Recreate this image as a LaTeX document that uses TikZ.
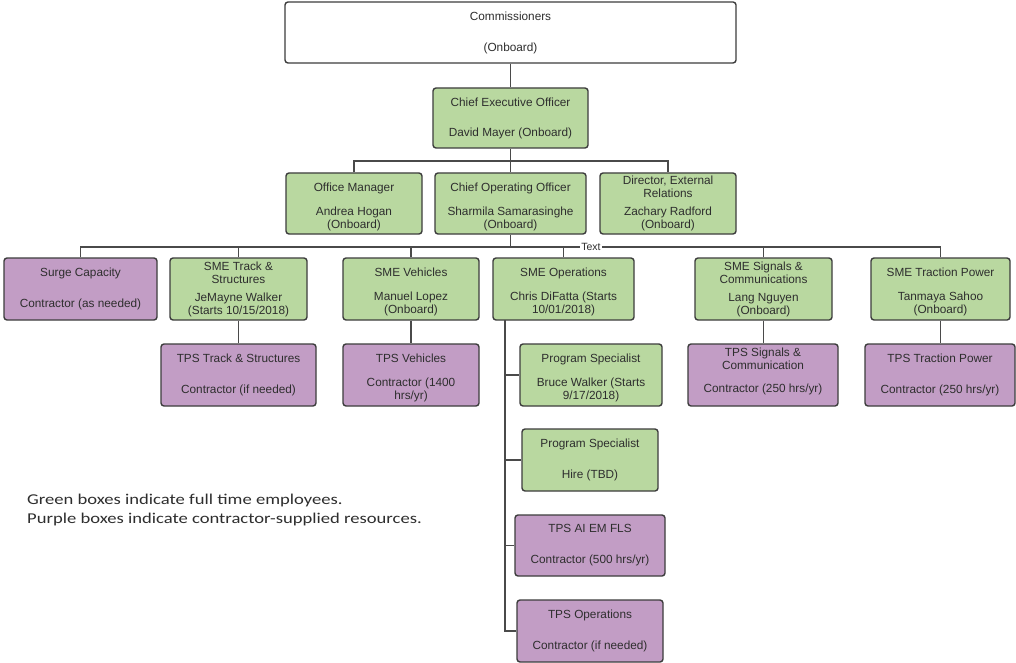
\documentclass[tikz,border=0pt]{standalone}
\usepackage{fontspec}
\setmainfont{Liberation Sans}
\newfontfamily\legendfont{Carlito}
\usepackage{graphicx}
\definecolor{gfill}{HTML}{B9D8A0}
\definecolor{pfill}{HTML}{C29DC5}
\definecolor{bord}{HTML}{3D3D3D}
\definecolor{conn}{HTML}{4A4A4A}
\definecolor{txtc}{HTML}{2E2E2E}
\newcommand\topstrut{\rule{0pt}{14.6pt}}
\newcommand\botstrut{\rule[-9.5pt]{0pt}{0pt}}
\tikzset{
  box/.style={draw=bord, line width=1.4pt, rounded corners=3pt, align=center,
    inner sep=0pt, text=txtc, font=\fontsize{11.8}{13}\selectfont},
  gbox/.style={box, fill=gfill},
  pbox/.style={box, fill=pfill},
  wbox/.style={box, fill=white},
  link/.style={draw=conn, line width=1.4pt},
}
\begin{document}
\begin{tikzpicture}[x=1pt, y=-1pt]
\useasboundingbox[fill=white] (0,0) rectangle (1016,663);

% level 0/1
\node[wbox, minimum width=451pt, minimum height=61pt] (com) at (510.5,32.5) {Commissioners\\[18pt](Onboard)};
\node[gbox, minimum width=155pt, minimum height=60pt] (ceo) at (510.5,118) {Chief Executive Officer\\[17pt]David Mayer (Onboard)};

% level 2
\node[gbox, minimum width=136pt, minimum height=61pt] (om) at (354,203.5) {\topstrut Office Manager\\[11pt]Andrea Hogan\\(Onboard)};
\node[gbox, minimum width=151pt, minimum height=61pt] (coo) at (510.5,203.5) {\topstrut Chief Operating Officer\\[11pt]Sharmila Samarasinghe\\(Onboard)};
\node[gbox, minimum width=136pt, minimum height=61pt] (dir) at (668,203.5) {Director, External\\Relations\\[5pt]Zachary Radford\\(Onboard)};

% level 3
\node[pbox, minimum width=153pt, minimum height=62pt] (sur) at (80.5,289) {Surge Capacity\\[18pt]Contractor (as needed)};
\node[gbox, minimum width=137pt, minimum height=62pt] (smt) at (238.5,289) {SME Track \&\\Structures\\[5pt]JeMayne Walker\\(Starts 10/15/2018)};
\node[gbox, minimum width=136pt, minimum height=62pt] (smv) at (411,289) {\topstrut SME Vehicles\\[11pt]Manuel Lopez\\(Onboard)};
\node[gbox, minimum width=141pt, minimum height=62pt] (smo) at (563.5,289) {\topstrut SME Operations\\[11pt]Chris DiFatta (Starts\\10/01/2018)};
\node[gbox, minimum width=137pt, minimum height=62pt] (sms) at (763.5,289) {SME Signals \&\\Communications\\[5pt]Lang Nguyen\\(Onboard)};
\node[gbox, minimum width=139pt, minimum height=62pt] (smp) at (940.5,289) {\topstrut SME Traction Power\\[11pt]Tanmaya Sahoo\\(Onboard)};

% level 4
\node[pbox, minimum width=155pt, minimum height=62pt] (tpt) at (238.5,375) {TPS Track \& Structures\\[18pt]Contractor (if needed)};
\node[pbox, minimum width=136pt, minimum height=62pt] (tpv) at (411,375) {\topstrut TPS Vehicles\\[11pt]Contractor (1400\\hrs/yr)};
\node[pbox, minimum width=150pt, minimum height=62pt] (tps) at (763,375) {TPS Signals \&\\Communication\\[10pt]Contractor (250 hrs/yr)\botstrut};
\node[pbox, minimum width=150pt, minimum height=62pt] (tpp) at (940,375) {TPS Traction Power\\[18pt]Contractor (250 hrs/yr)};

% operations subtree
\node[gbox, minimum width=142pt, minimum height=62pt] (ps1) at (591,375) {\topstrut Program Specialist\\[11pt]Bruce Walker (Starts\\9/17/2018)};
\node[gbox, minimum width=136pt, minimum height=62pt] (ps2) at (590,460) {Program Specialist\\[18pt]Hire (TBD)};
\node[pbox, minimum width=150pt, minimum height=61pt] (fls) at (590,545.5) {TPS AI EM FLS\\[18pt]Contractor (500 hrs/yr)};
\node[pbox, minimum width=146pt, minimum height=62pt] (tpo) at (590,631) {TPS Operations\\[18pt]Contractor (if needed)};

% connectors
\coordinate (b2) at (510.5,161);
\coordinate (b3) at (510.5,247);
\coordinate (v0) at (505,320);
\draw[link] (com.south) -- (ceo.north);
\draw[link] (ceo.south) -- (coo.north);
\draw[link] (om.north) -- (om.north |- b2) -- (dir.north |- b2) -- (dir.north);
\draw[link] (coo.south) -- (b3);
\draw[link] (sur.north) -- (sur.north |- b3) -- (smp.north |- b3) -- (smp.north);
\foreach \n in {smt,smv,smo,sms} \draw[link] (\n.north) -- (\n.north |- b3);
\node[fill=white, inner xsep=1pt, inner ysep=0.5pt, text=txtc, font=\fontsize{10.5}{11}\selectfont] (txt) at (591,247) {Text};
\draw[link] (smt.south) -- (tpt.north);
\draw[link] (smv.south) -- (tpv.north);
\draw[link] (sms.south) -- (sms.south |- tps.north);
\draw[link] (smp.south) -- (smp.south |- tpp.north);
\draw[link] (v0) |- (tpo.west);
\foreach \n in {ps1,ps2,fls} \draw[link] (v0 |- \n.west) -- (\n.west);

% legend
\node[anchor=base west, inner sep=0pt, text=txtc, font=\legendfont\fontsize{15}{18}\selectfont] (leg1) at (27,504) {\scalebox{1.24}[1]{Green boxes indicate full time employees.}};
\node[anchor=base west, inner sep=0pt, text=txtc, font=\legendfont\fontsize{15}{18}\selectfont] (leg2) at (27,523.5) {\scalebox{1.24}[1]{Purple boxes indicate contractor-supplied resources.}};
\end{tikzpicture}
\end{document}
